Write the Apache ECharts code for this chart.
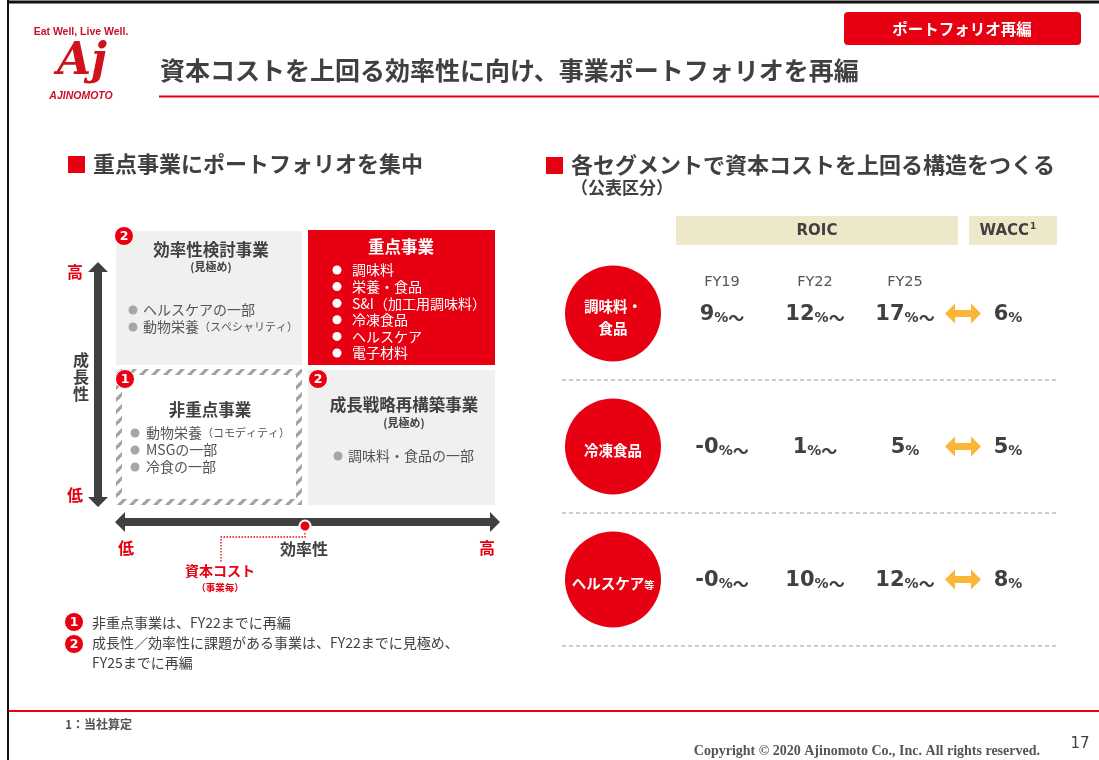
<!DOCTYPE html>
<html>
<head>
<meta charset="utf-8">
<script src="https://cdn.jsdelivr.net/npm/echarts@6/dist/echarts.min.js"></script>
<style>
  html, body { margin: 0; padding: 0; background: #fff; }
  #main { width: 1099px; height: 760px; }
</style>
</head>
<body>
<div id="main"></div>
<script>
// --- data ---
const segments = ['調味料・\n食品', '冷凍食品', 'ヘルスケア等'];
const years = ['FY19', 'FY22', 'FY25'];
const roicFY19 = ['9%～', '-0%～', '-0%～'];
const roicFY22 = ['12%～', '1%～', '10%～'];
const roicFY25 = ['17%～', '5%', '12%～'];
const wacc = ['6%', '5%', '8%'];

const focusList = ['調味料', '栄養・食品', 'S&I（加工用調味料）', '冷凍食品', 'ヘルスケア', '電子材料'];
const reviewList = ['ヘルスケアの一部', '動物栄養|（スペシャリティ）'];
const nonFocusList = ['動物栄養|（コモディティ）', 'MSGの一部', '冷食の一部'];
const rebuildList = ['調味料・食品の一部'];

const RED = '#E60012';
const DARK = '#404040';
const F = '"Noto Sans CJK JP", "Noto Sans", sans-serif';
const NUM = '"DejaVu Sans", "Noto Sans", sans-serif';

var chartDom = document.getElementById('main');
var myChart = echarts.init(chartDom, null, { renderer: 'canvas' });

// hatched border pattern
const hc = document.createElement('canvas');
hc.width = 12; hc.height = 12;
const g = hc.getContext('2d');
g.fillStyle = '#fff'; g.fillRect(0, 0, 12, 12);
g.strokeStyle = '#A4A4A4'; g.lineWidth = 3.2;
[[-1, 13, 13, -1], [-7, 7, 7, -7], [5, 19, 19, 5]].forEach(function (s) {
  g.beginPath(); g.moveTo(s[0], s[1]); g.lineTo(s[2], s[3]); g.stroke();
});

function txt(x, y, text, size, color, opt) {
  return {
    type: 'text', x: x, y: y, silent: true,
    style: Object.assign({
      text: text, fill: color, font: (opt && opt.weight || 'normal') + ' ' + size + 'px ' + F,
      align: 'left', verticalAlign: 'middle'
    }, opt && opt.style)
  };
}
function bold(x, y, text, size, color, align) {
  return txt(x, y, text, size, color, { weight: 'bold', style: { align: align || 'left' } });
}
function badge(x, y, n) {
  return [
    { type: 'circle', shape: { cx: x, cy: y, r: 9.5 }, style: { fill: RED, stroke: '#fff', lineWidth: 1 } },
    txt(x, y + 0.5, String(n), 12.5, '#fff', { style: { align: 'center', font: 'bold 12.5px ' + NUM } })
  ];
}
function bullets(list, x, y0, step, dot, color, gap) {
  const out = [];
  list.forEach(function (s, i) {
    const y = y0 + i * step;
    out.push({ type: 'circle', shape: { cx: x, cy: y, r: 4.5 }, style: { fill: dot } });
    const parts = s.split('|');
    out.push({
      type: 'text', x: x + gap, y: y,
      style: {
        text: '{a|' + parts[0] + '}' + (parts[1] ? '{b|' + parts[1] + '}' : ''),
        verticalAlign: 'middle',
        rich: {
          a: { fontSize: 14, fontFamily: F, fill: color, color: color },
          b: { fontSize: 11, fontFamily: F, fill: color, color: color }
        }
      }
    });
  });
  return out;
}
function arrowPolys(horizontal, a, b, c, shaft, head, len) {
  // a..b along the axis, c across it
  const pts = [
    [a, c], [a + len, c - head / 2], [a + len, c - shaft / 2], [b - len, c - shaft / 2],
    [b - len, c - head / 2], [b, c], [b - len, c + head / 2], [b - len, c + shaft / 2],
    [a + len, c + shaft / 2], [a + len, c + head / 2]
  ];
  return horizontal ? pts : pts.map(function (p) { return [p[1], p[0]]; });
}

const graphics = [];
// frame
graphics.push({ type: 'line', shape: { x1: 8, y1: 2, x2: 1099, y2: 2 }, style: { stroke: '#111', lineWidth: 3 } });
graphics.push({ type: 'line', shape: { x1: 8, y1: 0, x2: 8, y2: 760 }, style: { stroke: '#111', lineWidth: 2 } });
// logo
graphics.push(txt(81, 32, 'Eat Well, Live Well.', 10.5, '#C8102E', { style: { align: 'center', font: 'bold 10.5px "Liberation Sans", sans-serif' } }));
graphics.push(txt(82, 63, 'Aj', 44, '#D0121B', { style: { align: 'center', font: 'italic bold 44px "DejaVu Serif", serif' } }));
graphics.push(txt(81, 96, 'AJINOMOTO', 10.5, '#C8102E', { style: { align: 'center', font: 'italic bold 10.5px "Liberation Sans", sans-serif' } }));
// title
graphics.push(bold(160, 70, '資本コストを上回る効率性に向け、事業ポートフォリオを再編', 25, DARK));
graphics.push({ type: 'rect', shape: { x: 159, y: 95.5, width: 940, height: 2 }, style: { fill: RED } });
// tag
graphics.push({ type: 'rect', shape: { x: 844, y: 12, width: 237, height: 33, r: 4 }, style: { fill: RED } });
graphics.push(bold(962, 29, 'ポートフォリオ再編', 15.5, '#fff', 'center'));

// left section header
graphics.push({ type: 'rect', shape: { x: 68, y: 156, width: 17, height: 17 }, style: { fill: RED } });
graphics.push(bold(93, 164, '重点事業にポートフォリオを集中', 22, DARK));
// right section header
graphics.push({ type: 'rect', shape: { x: 546, y: 157, width: 17, height: 17 }, style: { fill: RED } });
graphics.push(bold(571, 165, '各セグメントで資本コストを上回る構造をつくる', 22, DARK));
graphics.push(bold(571, 188, '（公表区分）', 17, DARK));

// matrix boxes
graphics.push({ type: 'rect', shape: { x: 116, y: 231, width: 186, height: 134 }, style: { fill: '#F0F0F0' } });
graphics.push({ type: 'rect', shape: { x: 308, y: 230, width: 187, height: 135 }, style: { fill: RED } });
graphics.push({ type: 'rect', shape: { x: 116, y: 369, width: 186, height: 136 }, style: { fill: { image: hc, repeat: 'repeat' } } });
graphics.push({ type: 'rect', shape: { x: 122, y: 375, width: 174, height: 124 }, style: { fill: '#fff' } });
graphics.push({ type: 'rect', shape: { x: 308, y: 370, width: 187, height: 135 }, style: { fill: '#F0F0F0' } });

graphics.push(bold(211, 250, '効率性検討事業', 16.5, DARK, 'center'));
graphics.push(bold(211, 267, '(見極め)', 11, DARK, 'center'));
Array.prototype.push.apply(graphics, bullets(reviewList, 133, 310, 17, '#A6A6A6', '#555', 10));

graphics.push(bold(401, 247, '重点事業', 16.5, '#fff', 'center'));
Array.prototype.push.apply(graphics, bullets(focusList, 337, 270, 16.6, '#fff', '#fff', 15));

graphics.push(bold(210, 410, '非重点事業', 16.5, DARK, 'center'));
Array.prototype.push.apply(graphics, bullets(nonFocusList, 135, 433, 17, '#A6A6A6', '#555', 11));

graphics.push(bold(404, 405, '成長戦略再構築事業', 16.5, DARK, 'center'));
graphics.push(bold(404, 423, '(見極め)', 11, DARK, 'center'));
Array.prototype.push.apply(graphics, bullets(rebuildList, 338, 456, 17, '#A6A6A6', '#555', 10));

Array.prototype.push.apply(graphics, badge(124, 236, 2));
Array.prototype.push.apply(graphics, badge(125, 379, 1));
Array.prototype.push.apply(graphics, badge(318, 379, 2));

// axes
graphics.push({ type: 'polygon', shape: { points: arrowPolys(false, 262, 507, 98, 8, 20, 10) }, style: { fill: DARK } });
graphics.push(bold(75, 272, '高', 16, RED, 'center'));
graphics.push(bold(75, 495, '低', 16, RED, 'center'));
graphics.push(bold(81, 360, '成', 16, DARK, 'center'));
graphics.push(bold(81, 377, '長', 16, DARK, 'center'));
graphics.push(bold(81, 394, '性', 16, DARK, 'center'));

graphics.push({ type: 'polygon', shape: { points: arrowPolys(true, 115, 500, 522, 8, 20, 10) }, style: { fill: DARK } });
graphics.push({ type: 'polyline', shape: { points: [[305, 530], [305, 537], [221, 537], [221, 563]] }, style: { stroke: RED, lineWidth: 1.3, lineDash: [1.5, 1.5], fill: null } });
graphics.push({ type: 'circle', shape: { cx: 305, cy: 526, r: 5.5 }, style: { fill: RED, stroke: '#fff', lineWidth: 2 } });
graphics.push(bold(126, 548, '低', 16, RED, 'center'));
graphics.push(bold(304, 549, '効率性', 16, DARK, 'center'));
graphics.push(bold(487, 548, '高', 16, RED, 'center'));
graphics.push(bold(220, 571, '資本コスト', 14, RED, 'center'));
graphics.push(bold(220, 587, '（事業毎）', 9.5, RED, 'center'));

// notes
Array.prototype.push.apply(graphics, badge(74, 622, 1));
Array.prototype.push.apply(graphics, badge(74, 644, 2));
graphics.push(txt(92, 623, '非重点事業は、FY22までに再編', 14, DARK));
graphics.push(txt(92, 643, '成長性／効率性に課題がある事業は、FY22までに見極め、', 14, DARK));
graphics.push(txt(92, 663, 'FY25までに再編', 14, DARK));

// ROIC / WACC headers
graphics.push({ type: 'rect', shape: { x: 676, y: 216, width: 282, height: 29 }, style: { fill: '#EEE8CB' } });
graphics.push({ type: 'rect', shape: { x: 969, y: 216, width: 88, height: 29 }, style: { fill: '#EEE8CB' } });
graphics.push(txt(817, 231, 'ROIC', 15, DARK, { style: { align: 'center', font: 'bold 15px ' + NUM } }));
graphics.push({
  type: 'text', x: 1008, y: 231,
  style: {
    text: '{a|WACC}{b|1}', align: 'center', verticalAlign: 'middle',
    rich: {
      a: { fontSize: 15, fontWeight: 'bold', fontFamily: NUM, fill: DARK, color: DARK },
      b: { fontSize: 9, fontWeight: 'bold', fontFamily: NUM, fill: DARK, color: DARK, verticalAlign: 'top', padding: [0, 0, 8, 1] }
    }
  }
});

// footer
graphics.push({ type: 'rect', shape: { x: 9, y: 710, width: 1090, height: 2 }, style: { fill: RED } });
graphics.push(bold(65, 724, '1：当社算定', 12, '#555'));
graphics.push(txt(1040, 751, 'Copyright © 2020 Ajinomoto Co., Inc. All rights reserved.', 14, '#555', { style: { align: 'right', font: 'bold 14px "Liberation Serif", "DejaVu Serif", serif' } }));
graphics.push(txt(1080, 744, '17', 15, DARK, { style: { align: 'center', font: '15px ' + NUM } }));

// --- ROIC table through a category axis ---
function valueText(s) {
  const m = s.match(/^(-?\d+)(%?)(～?)$/);
  return '{n|' + m[1] + '}{p|' + m[2] + '}' + (m[3] ? '{t|' + m[3] + '}' : '');
}
const valueRich = {
  n: { fontSize: 21, fontWeight: 'bold', fontFamily: NUM, fill: DARK, color: DARK, verticalAlign: 'bottom', lineHeight: 26 },
  p: { fontSize: 14, fontWeight: 'bold', fontFamily: NUM, fill: DARK, color: DARK, verticalAlign: 'bottom', lineHeight: 22 },
  t: { fontSize: 16, fontWeight: 'bold', fontFamily: F, fill: DARK, color: DARK, verticalAlign: 'bottom', lineHeight: 22 }
};
const colOffsets = [160, 253, 343];

function renderRow(params, api) {
  const i = params.dataIndex;
  const p = api.coord([0, i]);
  const x0 = p[0], cy = p[1];
  const band = api.size([0, 1])[1];
  const kids = [];
  kids.push({ type: 'circle', shape: { cx: x0 + 51, cy: cy, r: 48 }, style: { fill: RED } });
  let label = segments[i];
  if (label.endsWith('等')) {
    label = '{a|' + label.slice(0, -1) + '}{b|等}';
  } else {
    label = label.split('\n').map(function (l) { return '{a|' + l + '}'; }).join('\n');
  }
  kids.push({
    type: 'text', x: x0 + 51, y: cy,
    style: {
      text: label, align: 'center', verticalAlign: 'middle',
      rich: {
        a: { fontSize: 14.5, fontWeight: 'bold', fontFamily: F, fill: '#fff', color: '#fff', lineHeight: 22, verticalAlign: 'bottom' },
        b: { fontSize: 10, fontWeight: 'bold', fontFamily: F, fill: '#fff', color: '#fff', lineHeight: 20, verticalAlign: 'bottom' }
      }
    }
  });
  const vals = [roicFY19[i], roicFY22[i], roicFY25[i]];
  vals.forEach(function (v, k) {
    if (i === 0) {
      kids.push({ type: 'text', x: x0 + colOffsets[k], y: cy - 31, style: { text: years[k], fill: '#555', font: '14.5px ' + NUM, align: 'center', verticalAlign: 'middle' } });
    }
    kids.push({ type: 'text', x: x0 + colOffsets[k], y: cy - 1, style: { text: valueText(v), align: 'center', verticalAlign: 'middle', rich: valueRich } });
  });
  const ax = x0 + 401;
  kids.push({ type: 'polygon', shape: { points: arrowPolys(true, ax - 18, ax + 18, cy, 7, 20, 10) }, style: { fill: '#FBB637' } });
  kids.push({ type: 'text', x: x0 + 446, y: cy - 1, style: { text: valueText(wacc[i]), align: 'center', verticalAlign: 'middle', rich: valueRich } });
  kids.push({ type: 'line', shape: { x1: x0, y1: cy + band / 2, x2: x0 + 496, y2: cy + band / 2 }, style: { stroke: '#999', lineWidth: 1, lineDash: [4, 3] } });
  return { type: 'group', children: kids };
}

var option = {
  animation: false,
  backgroundColor: '#fff',
  grid: { left: 562, top: 247, width: 496, height: 399 },
  xAxis: { type: 'value', min: 0, max: 1, show: false },
  yAxis: { type: 'category', data: segments, inverse: true, show: false },
  series: [{
    type: 'custom',
    renderItem: renderRow,
    data: segments.map(function (s, i) { return [0, i]; }),
    silent: true
  }],
  graphic: { elements: graphics }
};
option && myChart.setOption(option);
</script>
</body>
</html>
